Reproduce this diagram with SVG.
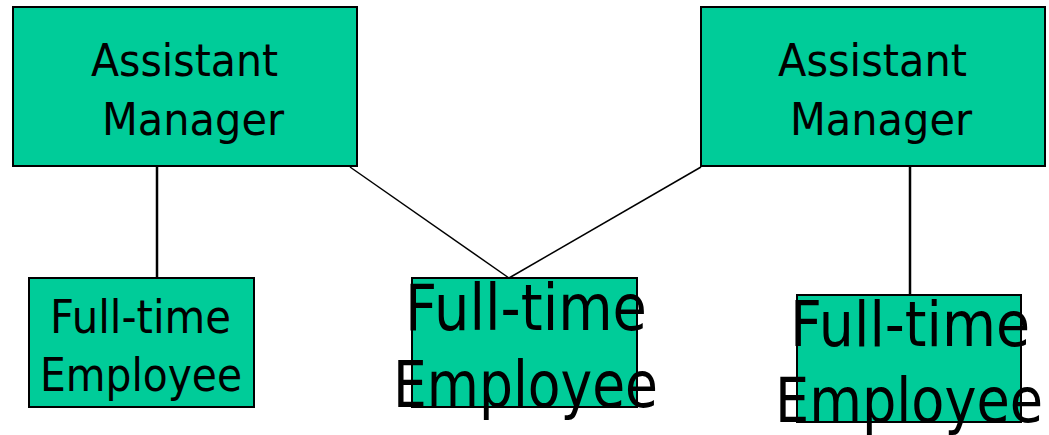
<svg xmlns="http://www.w3.org/2000/svg" width="1049" height="435" viewBox="0 0 1049 435">
<style>
.box{fill:#00CC99;stroke:#000;stroke-width:2}
.t{font-family:"DejaVu Sans","Liberation Sans",sans-serif;fill:#000}
.s{font-size:45px}
.b{font-size:64px}
.c{stroke:#000;fill:none}
</style>
<rect width="1049" height="435" fill="#fff"/>
<g id="connectors">
<line class="c" x1="157" y1="167" x2="157" y2="278" stroke-width="2.5"/>
<line class="c" x1="910" y1="167" x2="910" y2="295" stroke-width="2.5"/>
<line class="c" x1="350" y1="167" x2="509" y2="278" stroke-width="1.5"/>
<line class="c" x1="701" y1="167" x2="509" y2="278" stroke-width="1.5"/>
</g>
<g id="am1">
<rect class="box" x="13" y="7" width="344" height="159"/>
<text class="t s" x="91" y="76" textLength="187" lengthAdjust="spacingAndGlyphs">Assistant</text>
<text class="t s" x="102" y="135" textLength="182" lengthAdjust="spacingAndGlyphs">Manager</text>
</g>
<g id="am2">
<rect class="box" x="701" y="7" width="344" height="159"/>
<text class="t s" x="778" y="76" textLength="189" lengthAdjust="spacingAndGlyphs">Assistant</text>
<text class="t s" x="790" y="135" textLength="182" lengthAdjust="spacingAndGlyphs">Manager</text>
</g>
<g id="fte1">
<rect class="box" x="29" y="278" width="225" height="129"/>
<text class="t" font-size="47" x="50" y="333" textLength="181" lengthAdjust="spacingAndGlyphs">Full-time</text>
<text class="t" font-size="47" x="40" y="391" textLength="202" lengthAdjust="spacingAndGlyphs">Employee</text>
</g>
<g id="fte2">
<rect class="box" x="412" y="278" width="225" height="129"/>
<text class="t b" x="405" y="330" textLength="242" lengthAdjust="spacingAndGlyphs">Full-time</text>
<text class="t b" x="393" y="407" textLength="265" lengthAdjust="spacingAndGlyphs">Employee</text>
</g>
<g id="fte3">
<rect class="box" x="797" y="295" width="224" height="127"/>
<text class="t" font-size="63" x="790" y="346" textLength="240" lengthAdjust="spacingAndGlyphs">Full-time</text>
<text class="t" font-size="63" x="775" y="422" textLength="268" lengthAdjust="spacingAndGlyphs">Employee</text>
</g>
</svg>
